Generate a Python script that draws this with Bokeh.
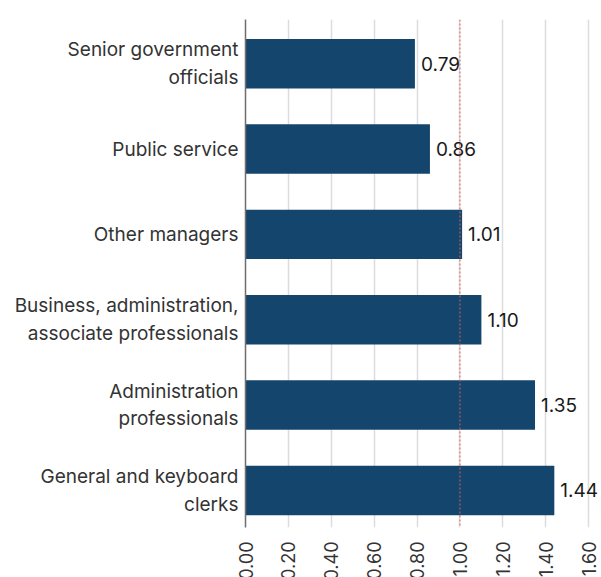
import math
from bokeh.plotting import figure
from bokeh.models import ColumnDataSource, Range1d, FixedTicker, Span
from bokeh.core.properties import value
from bokeh.embed import file_html
from bokeh.resources import INLINE

categories = [
    "Senior government\nofficials",
    "Public service",
    "Other managers",
    "Business, administration,\nassociate professionals",
    "Administration\nprofessionals",
    "General and keyboard\nclerks",
]
values = [0.79, 0.86, 1.01, 1.10, 1.35, 1.44]
value_labels = ["0.79", "0.86", "1.01", "1.10", "1.35", "1.44"]
x_ticks = [0.0, 0.2, 0.4, 0.6, 0.8, 1.0, 1.2, 1.4, 1.6]
x_tick_labels = ["0.00", "0.20", "0.40", "0.60", "0.80", "1.00", "1.20", "1.40", "1.60"]
reference_value = 1.0

n = len(categories)
pos = [n - 1 - i for i in range(n)]  # top category at top

src = ColumnDataSource(dict(y=pos, v=values, lab=value_labels))

FONT = "Inter"

p = figure(
    width=601, height=583,
    x_range=Range1d(0, 1.66),
    y_range=Range1d(-0.435, 5.518),
    output_backend="svg", toolbar_location=None,
    min_border_left=245, min_border_right=0, min_border_top=19, min_border_bottom=52,
)
p.outline_line_color = None

p.hbar(y="y", right="v", left=0, height=0.58, source=src,
       fill_color="#14456d", line_color=None)

p.text(x="v", y="y", text="lab", source=src, x_offset=6,
       text_baseline="middle", text_align="left",
       text_font=value(FONT), text_font_size="19px", text_color="#1a1a1a")

p.add_layout(Span(location=reference_value, dimension="height",
                  line_color="#e0604f", line_dash="2 2", line_width=1))

# x axis
xa = p.xaxis[0]
xa.ticker = FixedTicker(ticks=x_ticks)
xa.major_label_overrides = {t: l for t, l in zip(x_ticks, x_tick_labels)}
xa.major_label_orientation = math.pi / 2
xa.axis_line_color = None
xa.major_tick_line_color = None
xa.minor_tick_line_color = None
xa.major_label_standoff = 8
xa.major_label_text_font = FONT
xa.major_label_text_font_size = "18px"
xa.major_label_text_color = "#333333"

# y axis
ya = p.yaxis[0]
ya.ticker = FixedTicker(ticks=pos)
ya.major_label_overrides = {pp: c for pp, c in zip(pos, categories)}
ya.axis_line_color = "#6e6e6e"
ya.axis_line_width = 1.5
ya.major_tick_line_color = None
ya.minor_tick_line_color = None
ya.major_label_standoff = 1
ya.major_label_text_font = FONT
ya.major_label_text_font_size = "19px"
ya.major_label_text_color = "#333333"

p.xgrid.grid_line_color = "#dcdcdc"
p.xgrid.grid_line_width = 1.5
p.ygrid.grid_line_color = None

open("out.html", "w").write(file_html(p, INLINE))
